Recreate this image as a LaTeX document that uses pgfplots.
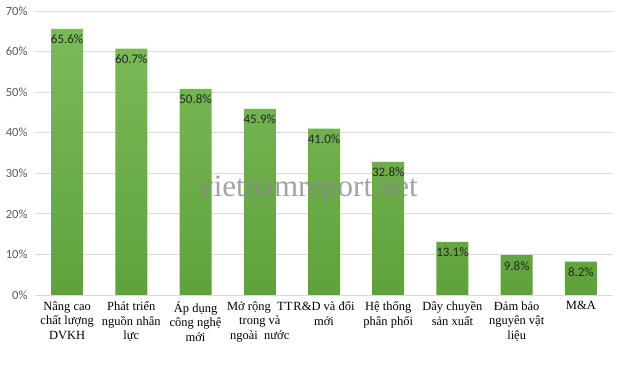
\documentclass[border=0pt]{standalone}
\usepackage{pgfplots}
\pgfplotsset{compat=1.18}
\usepackage{fontspec}
\setmainfont{Liberation Serif}
\newfontfamily\calib{Carlito}
\definecolor{bartop}{HTML}{7BBA59}
\definecolor{barbot}{HTML}{5FA23B}
\definecolor{gridc}{HTML}{D9D9D9}
\definecolor{tickc}{HTML}{595959}
\begin{document}
\begin{tikzpicture}
\begin{axis}[
  scale only axis,
  width=578pt, height=284pt,
  xmin=-0.5, xmax=8.5,
  ymin=0, ymax=70,
  ytick={0,10,...,70},
  yticklabel={\pgfmathprintnumber{\tick}\%},
  /pgf/number format/assume math mode=true,
  yticklabel style={font=\calib\fontsize{12.5}{14}\selectfont, text=tickc, xshift=-4pt},
  ymajorgrids, grid style={gridc, line width=0.8pt},
  axis x line*=bottom, axis y line*=left,
  x axis line style={gridc, line width=0.8pt, -},
  y axis line style={draw=none},
  xtick=data,
  xticklabels={{Nâng cao\\chất lượng\\DVKH},{Phát triển\\nguồn nhân\\lực},{Áp dụng\\công nghệ\\mới},{Mở rộng~~TT\\trong và\\ngoài~~nước},{R\&D và đổi\\mới},{Hệ thống\\phân phối},{Dây chuyền\\sản xuất},{Đảm bảo\\nguyên vật\\liệu},{M\&A}},
  xticklabel style={align=center, font=\fontsize{12.5}{14.5}\selectfont, text=black, yshift=-3pt},
  major tick length=0pt,
  ybar, bar width=32pt,
  nodes near coords={\pgfmathprintnumber[fixed,precision=1,fixed zerofill]{\pgfplotspointmeta}\%},
  every node near coord/.append style={anchor=north, yshift=-5pt, font=\calib\fontsize{13}{14}\selectfont, text=black!85, inner sep=1pt},
  clip=false,
]
\addplot[draw=none, top color=bartop, bottom color=barbot] coordinates {
 (0,65.6) (1,60.7) (2,50.8) (3,45.9) (4,41.0) (5,32.8) (6,13.1) (7,9.8) (8,8.2)};
\end{axis}
\node[text=black!45, opacity=0.8, font=\fontsize{31}{32}\selectfont] at (273pt,105pt) {vietnamreport.net};
\path ([xshift=-35pt,yshift=-76pt]current axis.south west) rectangle ([xshift=4pt,yshift=11pt]current axis.north east);
\end{tikzpicture}
\end{document}
